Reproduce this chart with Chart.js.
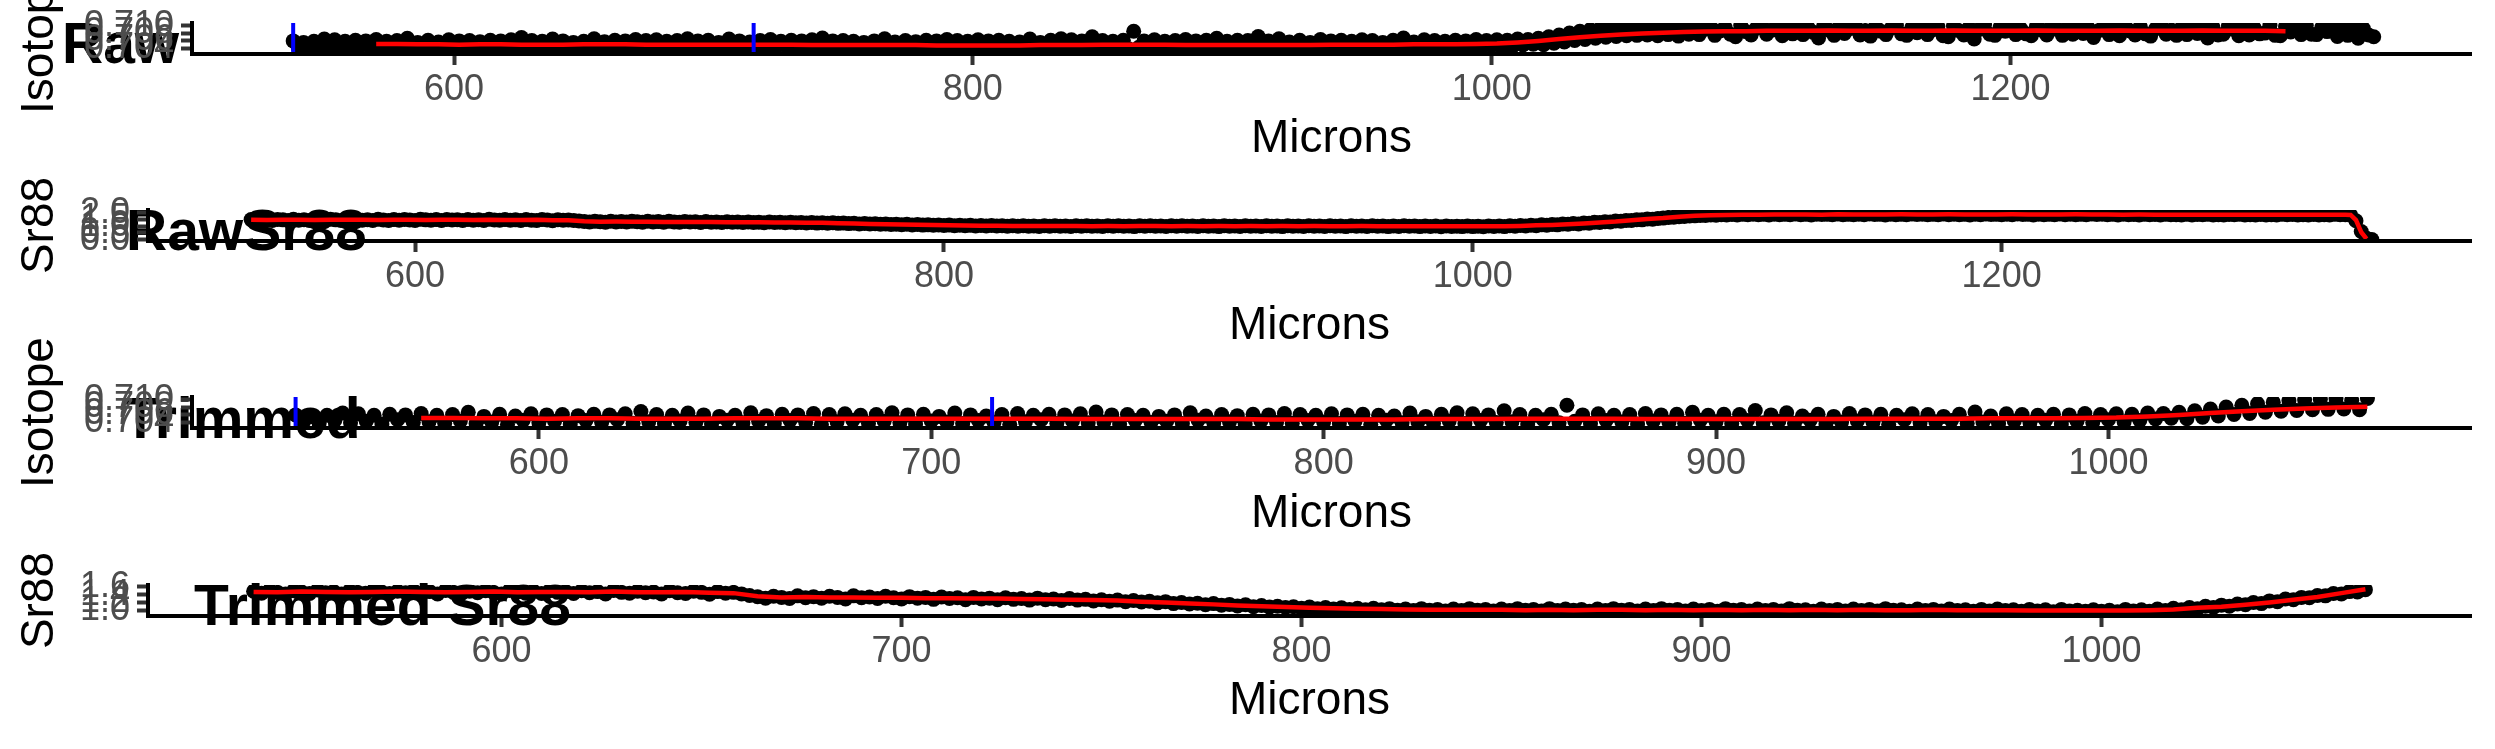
<!DOCTYPE html>
<html><head><meta charset="utf-8">
<script src="https://cdn.jsdelivr.net/npm/chart.js@4.4.1/dist/chart.umd.min.js"></script>
<style>
html,body{margin:0;padding:0;background:#fff;}
#wrap{position:relative;width:2495px;height:749px;overflow:hidden;background:#fff;}
.panel{position:absolute;left:0;width:2495px;}
.panel canvas{position:absolute;left:0;z-index:1;}
.ttl{position:absolute;z-index:0;font-family:'Liberation Sans',Arial,Helvetica,sans-serif;font-weight:bold;font-size:57px;line-height:57px;color:#000;white-space:nowrap;}
</style></head><body>
<div id="wrap"></div>
<script>
// ---------------- DATA ----------------
const micronsRaw = [
538,540,542,544,546,548,550,552,554,556,
558,560,562,564,566,568,570,572,574,576,
578,580,582,584,586,588,590,592,594,596,
598,600,602,604,606,608,610,612,614,616,
618,620,622,624,626,628,630,632,634,636,
638,640,642,644,646,648,650,652,654,656,
658,660,662,664,666,668,670,672,674,676,
678,680,682,684,686,688,690,692,694,696,
698,700,702,704,706,708,710,712,714,716,
718,720,722,724,726,728,730,732,734,736,
738,740,742,744,746,748,750,752,754,756,
758,760,762,764,766,768,770,772,774,776,
778,780,782,784,786,788,790,792,794,796,
798,800,802,804,806,808,810,812,814,816,
818,820,822,824,826,828,830,832,834,836,
838,840,842,844,846,848,850,852,854,856,
858,860,862,864,866,868,870,872,874,876,
878,880,882,884,886,888,890,892,894,896,
898,900,902,904,906,908,910,912,914,916,
918,920,922,924,926,928,930,932,934,936,
938,940,942,944,946,948,950,952,954,956,
958,960,962,964,966,968,970,972,974,976,
978,980,982,984,986,988,990,992,994,996,
998,1000,1002,1004,1006,1008,1010,1012,1014,1016,
1018,1020,1022,1024,1026,1028,1030,1032,1034,1036,
1038,1040,1042,1044,1046,1048,1050,1052,1054,1056,
1058,1060,1062,1064,1066,1068,1070,1072,1074,1076,
1078,1080,1082,1084,1086,1088,1090,1092,1094,1096,
1098,1100,1102,1104,1106,1108,1110,1112,1114,1116,
1118,1120,1122,1124,1126,1128,1130,1132,1134,1136,
1138,1140,1142,1144,1146,1148,1150,1152,1154,1156,
1158,1160,1162,1164,1166,1168,1170,1172,1174,1176,
1178,1180,1182,1184,1186,1188,1190,1192,1194,1196,
1198,1200,1202,1204,1206,1208,1210,1212,1214,1216,
1218,1220,1222,1224,1226,1228,1230,1232,1234,1236,
1238,1240,1242,1244,1246,1248,1250,1252,1254,1256,
1258,1260,1262,1264,1266,1268,1270,1272,1274,1276,
1278,1280,1282,1284,1286,1288,1290,1292,1294,1296,
1298,1300,1302,1304,1306,1308,1310,1312,1314,1316,
1318,1320,1322,1324,1326,1328,1330,1332,1334,1336,
1338,1340];

const isotopeRaw = [
0.7059,0.7040,0.7055,0.7036,0.7058,0.7044,0.7064,0.7038,0.7062,0.7042,
0.7058,0.7035,0.7061,0.7046,0.7059,0.7039,0.7063,0.7041,0.7058,0.7037,
0.7060,0.7043,0.7066,0.7036,0.7055,0.7040,0.7061,0.7034,0.7056,0.7045,
0.7062,0.7038,0.7059,0.7042,0.7060,0.7035,0.7057,0.7044,0.7061,0.7039,
0.7059,0.7046,0.7062,0.7037,0.7068,0.7041,0.7060,0.7036,0.7058,0.7043,
0.7064,0.7039,0.7059,0.7035,0.7055,0.7045,0.7058,0.7038,0.7065,0.7042,
0.7057,0.7036,0.7061,0.7044,0.7059,0.7039,0.7063,0.7034,0.7060,0.7041,
0.7062,0.7045,0.7058,0.7037,0.7060,0.7042,0.7065,0.7038,0.7059,0.7035,
0.7061,0.7043,0.7055,0.7040,0.7064,0.7036,0.7059,0.7044,0.7056,0.7039,
0.7060,0.7034,0.7063,0.7041,0.7058,0.7046,0.7061,0.7037,0.7059,0.7043,
0.7062,0.7038,0.7067,0.7040,0.7059,0.7035,0.7060,0.7044,0.7058,0.7039,
0.7055,0.7042,0.7059,0.7036,0.7065,0.7045,0.7056,0.7038,0.7060,0.7041,
0.7057,0.7035,0.7061,0.7043,0.7059,0.7039,0.7063,0.7037,0.7060,0.7044,
0.7058,0.7040,0.7062,0.7036,0.7059,0.7042,0.7061,0.7034,0.7058,0.7045,
0.7056,0.7038,0.7064,0.7041,0.7055,0.7037,0.7061,0.7043,0.7065,0.7036,
0.7062,0.7044,0.7059,0.7039,0.7070,0.7041,0.7060,0.7035,0.7058,0.7046,
0.7061,0.7038,0.7085,0.7042,0.7059,0.7036,0.7062,0.7044,0.7058,0.7040,
0.7060,0.7035,0.7063,0.7043,0.7059,0.7039,0.7061,0.7037,0.7066,0.7045,
0.7058,0.7041,0.7061,0.7036,0.7060,0.7044,0.7071,0.7038,0.7059,0.7042,
0.7065,0.7037,0.7056,0.7045,0.7061,0.7035,0.7055,0.7040,0.7063,0.7043,
0.7059,0.7039,0.7061,0.7034,0.7058,0.7046,0.7062,0.7038,0.7060,0.7041,
0.7055,0.7044,0.7061,0.7037,0.7067,0.7040,0.7056,0.7036,0.7062,0.7043,
0.7060,0.7038,0.7058,0.7045,0.7061,0.7035,0.7059,0.7042,0.7063,0.7039,
0.7060,0.7046,0.7062,0.7040,0.7061,0.7044,0.7064,0.7048,0.7063,0.7050,
0.7066,0.7049,0.7070,0.7053,0.7075,0.7056,0.7080,0.7060,0.7085,0.7063,
0.7089,0.7066,0.7093,0.7069,0.7097,0.7071,0.7099,0.7073,0.7101,0.7074,
0.7102,0.7075,0.7098,0.7073,0.7103,0.7076,0.7100,0.7072,0.7104,0.7077,
0.7098,0.7076,0.7090,0.7102,0.7074,0.7086,0.7095,0.7077,0.7070,0.7100,
0.7084,0.7075,0.7093,0.7103,0.7077,0.7088,0.7097,0.7073,0.7091,0.7078,
0.7101,0.7076,0.7094,0.7082,0.7067,0.7099,0.7088,0.7074,0.7096,0.7079,
0.7092,0.7104,0.7075,0.7087,0.7072,0.7098,0.7085,0.7076,0.7093,0.7101,
0.7078,0.7074,0.7095,0.7081,0.7103,0.7076,0.7089,0.7097,0.7073,0.7070,
0.7099,0.7087,0.7075,0.7094,0.7064,0.7090,0.7102,0.7077,0.7074,0.7096,
0.7085,0.7100,0.7076,0.7091,0.7078,0.7073,0.7098,0.7088,0.7075,0.7104,
0.7090,0.7074,0.7096,0.7077,0.7101,0.7079,0.7093,0.7068,0.7087,0.7099,
0.7076,0.7094,0.7073,0.7103,0.7086,0.7075,0.7097,0.7078,0.7072,0.7092,
0.7100,0.7077,0.7088,0.7074,0.7095,0.7076,0.7102,0.7079,0.7091,0.7067,
0.7096,0.7075,0.7077,0.7099,0.7090,0.7073,0.7104,0.7075,0.7093,0.7078,
0.7080,0.7101,0.7074,0.7073,0.7097,0.7083,0.7094,0.7076,0.7100,0.7077,
0.7076,0.7095,0.7084,0.7102,0.7071,0.7090,0.7074,0.7098,0.7066,0.7092,
0.7075,0.7070];

const sr88Raw = [
1.49,1.44,1.51,1.46,1.42,1.50,1.47,1.43,1.52,1.45,
1.48,1.42,1.50,1.46,1.44,1.51,1.47,1.43,1.49,1.45,
1.50,1.44,1.48,1.42,1.51,1.46,1.43,1.49,1.45,1.50,
1.46,1.42,1.51,1.47,1.44,1.49,1.43,1.50,1.46,1.48,
1.43,1.50,1.45,1.48,1.42,1.51,1.46,1.44,1.49,1.45,
1.47,1.42,1.50,1.45,1.43,1.49,1.46,1.41,1.48,1.44,
1.46,1.42,1.38,1.35,1.31,1.36,1.33,1.30,1.37,1.32,
1.35,1.31,1.36,1.33,1.29,1.37,1.32,1.34,1.30,1.36,
1.32,1.29,1.35,1.31,1.33,1.28,1.34,1.30,1.32,1.27,
1.33,1.29,1.31,1.27,1.32,1.28,1.30,1.26,1.31,1.27,
1.29,1.25,1.30,1.26,1.28,1.24,1.27,1.23,1.26,1.22,
1.25,1.21,1.23,1.19,1.22,1.17,1.20,1.16,1.18,1.14,
1.17,1.13,1.15,1.11,1.14,1.09,1.12,1.08,1.10,1.07,
1.09,1.05,1.08,1.04,1.07,1.03,1.06,1.02,1.05,1.01,
1.05,1.01,1.04,1.00,1.03,0.99,1.04,1.00,1.02,0.98,
1.03,0.99,1.04,1.00,1.02,0.98,1.03,0.99,1.04,1.00,
1.02,0.98,1.04,0.99,1.03,1.00,1.02,0.97,1.03,0.99,
1.04,1.00,1.02,0.98,1.03,0.99,1.04,1.00,1.02,0.98,
1.03,0.99,1.02,0.97,1.04,1.00,1.02,0.98,1.03,0.99,
1.02,0.98,1.04,1.00,1.01,0.97,1.03,0.99,1.02,0.98,
1.03,0.99,1.02,0.98,1.04,1.00,1.01,0.97,1.03,0.99,
1.02,0.98,1.03,0.99,1.01,0.97,1.02,0.98,1.03,0.99,
1.01,0.97,1.02,0.98,1.01,0.96,1.02,0.98,1.00,0.97,
1.01,0.97,1.00,0.96,1.02,0.98,1.01,0.97,1.03,0.99,
1.05,1.01,1.07,1.04,1.10,1.07,1.13,1.10,1.16,1.14,
1.20,1.17,1.24,1.22,1.29,1.27,1.33,1.32,1.38,1.37,
1.43,1.42,1.48,1.47,1.53,1.52,1.58,1.60,1.65,1.66,
1.71,1.72,1.76,1.77,1.80,1.80,1.83,1.82,1.85,1.84,
1.87,1.84,1.88,1.85,1.89,1.86,1.88,1.84,1.89,1.86,
1.88,1.85,1.90,1.86,1.88,1.84,1.89,1.87,1.88,1.85,
1.90,1.86,1.88,1.85,1.89,1.86,1.91,1.87,1.88,1.84,
1.89,1.86,1.88,1.85,1.90,1.87,1.89,1.85,1.88,1.86,
1.90,1.86,1.89,1.85,1.88,1.84,1.89,1.86,1.90,1.87,
1.88,1.85,1.89,1.86,1.91,1.87,1.88,1.84,1.89,1.86,
1.88,1.85,1.90,1.86,1.89,1.85,1.88,1.86,1.90,1.87,
1.89,1.85,1.88,1.84,1.89,1.86,1.87,1.83,1.88,1.85,
1.87,1.84,1.88,1.85,1.86,1.83,1.88,1.84,1.87,1.85,
1.88,1.84,1.86,1.83,1.87,1.85,1.88,1.84,1.86,1.83,
1.87,1.84,1.86,1.83,1.88,1.85,1.87,1.83,1.86,1.84,
1.87,1.83,1.86,1.84,1.88,1.85,1.86,1.82,1.40,0.60,
0.10,0.00];

const isoSmoothMicrons = [
570,578,586,594,602,610,618,626,634,642,
650,658,666,674,682,690,698,706,714,722,
730,738,746,754,762,770,778,786,794,802,
810,818,826,834,842,850,858,866,874,882,
890,898,906,914,922,930,938,946,954,962,
970,978,986,994,1002,1010,1018,1026,1034,1042,
1050,1058,1066,1074,1082,1090,1098,1106,1114,1122,
1130,1138,1146,1154,1162,1170,1178,1186,1194,1202,
1210,1218,1226,1234,1242,1250,1258,1266,1274,1282,
1290,1298,1306];
const isoSmooth = [
0.7051,0.7051,0.7050,0.7050,0.7049,0.7050,0.7050,0.7049,0.7049,0.7049,
0.7050,0.7050,0.7050,0.7049,0.7049,0.7049,0.7049,0.7049,0.7049,0.7049,
0.7049,0.7048,0.7048,0.7048,0.7048,0.7048,0.7048,0.7047,0.7047,0.7047,
0.7047,0.7047,0.7048,0.7048,0.7048,0.7049,0.7049,0.7049,0.7049,0.7048,
0.7048,0.7048,0.7048,0.7048,0.7048,0.7048,0.7049,0.7049,0.7049,0.7049,
0.7050,0.7050,0.7050,0.7051,0.7052,0.7055,0.7059,0.7064,0.7069,0.7073,
0.7076,0.7079,0.7081,0.7083,0.7084,0.7085,0.7085,0.7086,0.7086,0.7086,
0.7087,0.7086,0.7086,0.7087,0.7086,0.7086,0.7087,0.7086,0.7086,0.7086,
0.7087,0.7086,0.7086,0.7086,0.7087,0.7086,0.7086,0.7086,0.7087,0.7086,
0.7086,0.7086,0.7085];

const srSmoothMicrons = [
538,544,550,556,562,568,574,580,586,592,
598,604,610,616,622,628,634,640,646,652,
658,664,670,676,682,688,694,700,706,712,
718,724,730,736,742,748,754,760,766,772,
778,784,790,796,802,808,814,820,826,832,
838,844,850,856,862,868,874,880,886,892,
898,904,910,916,922,928,934,940,946,952,
958,964,970,976,982,988,994,1000,1006,1012,
1018,1024,1030,1036,1042,1048,1054,1060,1066,1072,
1078,1084,1090,1096,1102,1108,1114,1120,1126,1132,
1138,1144,1150,1156,1162,1168,1174,1180,1186,1192,
1198,1204,1210,1216,1222,1228,1234,1240,1246,1252,
1258,1264,1270,1276,1282,1288,1294,1300,1306,1312,
1318,1324,1330,1332,1334,1336,1338];
const srSmooth = [
1.47,1.46,1.48,1.47,1.46,1.47,1.48,1.47,1.46,1.47,
1.48,1.46,1.47,1.47,1.46,1.48,1.46,1.46,1.47,1.45,
1.44,1.36,1.33,1.34,1.33,1.33,1.32,1.32,1.31,1.31,
1.30,1.30,1.29,1.28,1.27,1.26,1.25,1.22,1.20,1.17,
1.15,1.12,1.10,1.08,1.06,1.05,1.04,1.03,1.02,1.01,
1.01,1.01,1.01,1.00,1.01,1.00,1.01,1.01,1.00,1.01,
1.00,1.01,1.00,1.01,1.00,1.01,1.00,1.01,1.00,1.00,
1.01,1.00,1.00,1.00,0.99,0.99,1.00,0.99,0.99,1.00,
1.02,1.06,1.09,1.14,1.20,1.27,1.34,1.44,1.54,1.61,
1.71,1.77,1.81,1.84,1.86,1.86,1.87,1.87,1.87,1.86,
1.88,1.87,1.87,1.87,1.88,1.87,1.87,1.88,1.87,1.87,
1.87,1.88,1.87,1.87,1.87,1.88,1.87,1.87,1.86,1.87,
1.86,1.86,1.86,1.86,1.86,1.85,1.86,1.85,1.86,1.85,
1.85,1.86,1.85,1.84,1.45,0.55,0.05];

const cutMicrons = [538, 715.5];   // blue vertical markers
const trimMax = 1066;              // trimmed series end

const panelTitles = ['Raw', 'RawSr88', 'Trimmed', 'Trimmed Sr88'];
const yTitles = ['Isotope', 'Sr88', 'Isotope', 'Sr88'];
const xTitle = 'Microns';
const xTicksRaw = [600, 800, 1000, 1200];
const xTicksTrim = [600, 700, 800, 900, 1000];
const yTicksIso = [0.704, 0.706, 0.708, 0.710];
const yTicksSrRaw = [0.0, 0.5, 1.0, 1.5, 2.0];
const yTicksSrTrim = [1.0, 1.2, 1.4, 1.6];
const xLimRaw = [499, 1377.5];
const xLimTrim = [511.6, 1092.4];
const yLimIso = [0.7024, 0.7107];
const yLimSrRaw = [-0.105, 2.205];
const yLimSrTrim = [0.85, 1.65];

// ---------------- DRAWING ----------------
const FONT = "'Liberation Sans', Arial, Helvetica, sans-serif";
const panelHeights = [187, 187, 188, 187];
const panelTops = [0, 187, 374, 562];
const EXTRA = 60; // canvas extends upward so rotated axis titles are not cut

function pairs(xs, ys, maxX) {
  const out = [];
  for (let i = 0; i < xs.length; i++) {
    if (maxX === undefined || xs[i] <= maxX) out.push({x: xs[i], y: ys[i]});
  }
  return out;
}

const panels = [
  {xLim: xLimRaw, xTicks: xTicksRaw, yLim: yLimIso, yTicks: yTicksIso, dec: 3, left: 192, r: 7.5,
   pts: pairs(micronsRaw, isotopeRaw), line: pairs(isoSmoothMicrons, isoSmooth), cuts: cutMicrons,
   tLeft: 62, tBase: 63},
  {xLim: xLimRaw, xTicks: xTicksRaw, yLim: yLimSrRaw, yTicks: yTicksSrRaw, dec: 1, left: 148, r: 7.5,
   pts: pairs(micronsRaw, sr88Raw), line: pairs(srSmoothMicrons, srSmooth), cuts: [],
   tLeft: 126, tBase: 63},
  {xLim: xLimTrim, xTicks: xTicksTrim, yLim: yLimIso, yTicks: yTicksIso, dec: 3, left: 192, r: 7.5,
   pts: pairs(micronsRaw, isotopeRaw, trimMax), line: pairs(isoSmoothMicrons, isoSmooth, trimMax), cuts: cutMicrons,
   tLeft: 123, tBase: 64},
  {xLim: xLimTrim, xTicks: xTicksTrim, yLim: yLimSrTrim, yTicks: yTicksSrTrim, dec: 1, left: 148, r: 7.5,
   pts: pairs(micronsRaw, sr88Raw, trimMax), line: pairs(srSmoothMicrons, srSmooth, trimMax), cuts: [],
   tLeft: 194, tBase: 63}
];

const wrap = document.getElementById('wrap');
panels.forEach((p, i) => {
  const H = panelHeights[i];
  const CH = H + EXTRA;
  const div = document.createElement('div');
  div.className = 'panel';
  div.style.top = panelTops[i] + 'px';
  div.style.height = H + 'px';
  const t = document.createElement('div');
  t.className = 'ttl';
  t.textContent = panelTitles[i];
  t.style.left = p.tLeft + 'px';
  t.style.top = (p.tBase - 48.2) + 'px';
  div.appendChild(t);
  const cv = document.createElement('canvas');
  cv.width = 2495; cv.height = CH;
  cv.style.width = '2495px'; cv.style.height = CH + 'px';
  cv.style.top = (-EXTRA) + 'px';
  div.appendChild(cv);
  wrap.appendChild(div);

  const datasets = [];
  p.cuts.forEach(c => datasets.push({
    type: 'line', data: [{x: c, y: p.yLim[0]}, {x: c, y: p.yLim[1]}],
    borderColor: '#0000FF', borderWidth: 4, pointRadius: 0, order: 1, clip: 0
  }));
  datasets.push({type: 'line', data: p.line, borderColor: '#FF0000', borderWidth: 4.5,
    pointRadius: 0, tension: 0, order: 2, clip: 0});
  datasets.push({type: 'line', data: p.pts, showLine: false, backgroundColor: '#000000',
    borderColor: '#000000', pointRadius: p.r, pointBorderWidth: 0, order: 3, clip: 0});

  new Chart(cv, {
    type: 'line',
    data: {datasets},
    options: {
      responsive: false, animation: false, events: [],
      layout: {autoPadding: false, padding: {left: 0, right: 24, top: 23 + EXTRA, bottom: 0}},
      plugins: {legend: {display: false}, tooltip: {enabled: false}, title: {display: false}},
      scales: {
        x: {
          type: 'linear', min: p.xLim[0], max: p.xLim[1],
          afterBuildTicks: s => { s.ticks = p.xTicks.map(v => ({value: v})); },
          afterFit: s => { s.height = H - 54; s.paddingLeft = 0; s.paddingRight = 0; },
          grid: {drawOnChartArea: false, drawTicks: true, tickLength: 11, tickWidth: 4, tickColor: '#333333'},
          border: {display: true, color: '#000000', width: 4, z: 1},
          ticks: {color: '#4D4D4D', font: {family: FONT, size: 36}, padding: 3, maxRotation: 0,
                  autoSkip: false, callback: v => String(v)},
          title: {display: true, text: xTitle, color: '#000000', font: {family: FONT, size: 46},
                  padding: {top: 0, bottom: 20}}
        },
        y: {
          type: 'linear', min: p.yLim[0], max: p.yLim[1],
          afterBuildTicks: s => { s.ticks = p.yTicks.map(v => ({value: v})); },
          afterFit: s => { s.width = p.left; s.paddingTop = 0; s.paddingBottom = 0; },
          grid: {drawOnChartArea: false, drawTicks: true, tickLength: 11, tickWidth: 4, tickColor: '#333333'},
          border: {display: true, color: '#000000', width: 4, z: 1},
          ticks: {color: '#4D4D4D', font: {family: FONT, size: 36}, padding: 7,
                  autoSkip: false, callback: v => Number(v).toFixed(p.dec)},
          title: {display: true, text: yTitles[i], color: '#000000', font: {family: FONT, size: 46},
                  padding: {top: 13, bottom: 0}}
        }
      }
    }
  });
});
</script>
</body></html>
